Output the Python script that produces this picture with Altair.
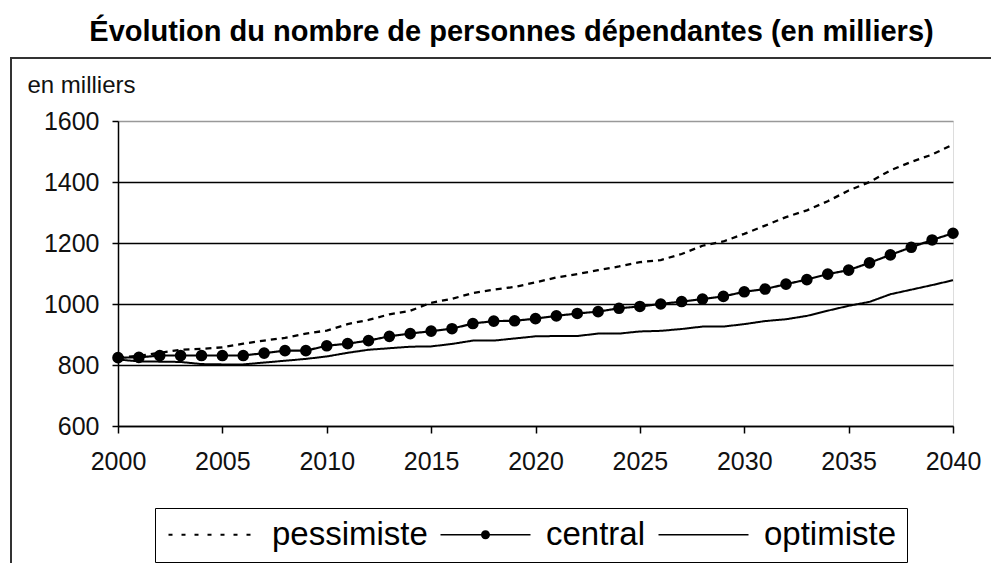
import altair as alt
import pandas as pd

years = list(range(2000, 2041))
pessimiste = [824, 830, 840, 850, 853, 858, 870, 880, 889, 903,
              913, 934, 948, 966, 978, 1004, 1017, 1036, 1047, 1056,
              1071, 1087, 1098, 1111, 1123, 1137, 1144, 1164, 1191, 1205,
              1230, 1257, 1285, 1307, 1337, 1372, 1400, 1438, 1466, 1490, 1523]
central = [824, 825, 831, 831, 831, 831, 831, 839, 847, 847,
           863, 870, 880, 894, 903, 911, 919, 936, 944, 945,
           952, 961, 969, 975, 986, 992, 1000, 1008, 1016, 1025,
           1040, 1049, 1065, 1080, 1098, 1111, 1135, 1161, 1186, 1210, 1232]
optimiste = [818, 812, 811, 810, 803, 802, 802, 808, 814, 820,
             828, 840, 850, 855, 860, 861, 869, 880, 880, 887,
             894, 895, 895, 903, 903, 910, 912, 918, 926, 926,
             934, 944, 950, 961, 978, 994, 1007, 1032, 1047, 1062, 1078]
series_names = ["pessimiste", "central", "optimiste"]
x_ticks = list(range(2000, 2041, 5))
y_ticks = list(range(600, 1601, 200))

rows = []
for name, vals in zip(series_names, [pessimiste, central, optimiste]):
    for yr, v in zip(years, vals):
        rows.append({"annee": yr, "valeur": v, "serie": name})
df = pd.DataFrame(rows)

FONT = "Liberation Sans"
# Legend symbol glyphs (filled paths). One unit = sqrt(900)/2 = 15 px;
# each glyph spans -1..5 units, i.e. a 90 px wide sample line.
U = 15.0
def _rect(x0, x1, h):
    return f"M{x0/U:.4f},{-h/2/U:.4f}H{x1/U:.4f}V{h/2/U:.4f}H{x0/U:.4f}Z"
solid_path = _rect(-15, 75, 1.6)
dot_path = solid_path + "M2.3,0A0.3,0.3,0,1,1,1.7,0A0.3,0.3,0,1,1,2.3,0Z"
dotted_path = "".join(_rect(-13 + 13 * i, -9 + 13 * i, 2.0) for i in range(7))

legend = alt.Legend(
    title=None, orient="none", legendX=37, legendY=387, direction="horizontal",
    symbolSize=900, symbolStrokeWidth=1.5, labelFont=FONT, labelFontSize=33,
    labelColor="black", labelOffset=74, columnPadding=8, padding=10,
    strokeColor="black", fillColor="white", symbolStrokeColor="black",
    symbolFillColor="black", labelLimit=0,
)

x_enc = alt.X(
    "annee:Q",
    scale=alt.Scale(domain=[2000, 2040], nice=False, zero=False),
    axis=alt.Axis(values=x_ticks, format="d", title=None, grid=False,
                  tickSize=7, labelPadding=16, labelFontSize=25, labelFont=FONT,
                  labelColor="#111", domainColor="black", domainWidth=1.5,
                  tickColor="black", tickWidth=1.5, labelFlush=False,
                  labelOverlap=False, labelBound=False),
)
y_enc = alt.Y(
    "valeur:Q",
    scale=alt.Scale(domain=[600, 1600], nice=False, zero=False),
    axis=alt.Axis(values=y_ticks, format="d", title="en milliers", grid=True,
                  gridColor=alt.condition("datum.value == 1600", alt.value("#999999"), alt.value("black")),
                  gridWidth=1.5, tickSize=6, labelPadding=13, labelFontSize=25,
                  labelFont=FONT, labelColor="#111", domainColor="black",
                  domainWidth=1.5, tickColor="black", tickWidth=1.5,
                  labelFlush=False, labelOverlap=False,
                  titleAngle=0, titleX=-91, titleY=-29, titleAlign="left",
                  titleBaseline="alphabetic", titleFontSize=24,
                  titleFontWeight="normal", titleFont=FONT, titleColor="#111"),
)

frame = alt.Chart(pd.DataFrame({"a": [0]})).mark_rect(
    filled=False, stroke="#333333", strokeWidth=2
).encode(x=alt.value(-107), y=alt.value(-63), x2=alt.value(900), y2=alt.value(470))

lines = alt.Chart(df).mark_line(color="black").encode(
    x=x_enc, y=y_enc,
    strokeDash=alt.StrokeDash("serie:N", scale=alt.Scale(domain=series_names, range=[[6, 5], [1, 0], [1, 0]]), legend=legend),
    strokeWidth=alt.StrokeWidth("serie:N", scale=alt.Scale(domain=series_names, range=[2.3, 2, 1.3]), legend=None),
)

helper = alt.Chart(df).mark_point(
    filled=False, size=0, color="black", fill="black", stroke="black", strokeWidth=1.5, opacity=1
).encode(
    x=x_enc, y=y_enc,
    shape=alt.Shape("serie:N", scale=alt.Scale(domain=series_names, range=[dotted_path, dot_path, solid_path]), legend=legend),
)

points = alt.Chart(df).transform_filter("datum.serie == 'central'").mark_point(
    filled=True, size=135, color="black", opacity=1
).encode(x=x_enc, y=y_enc)

chart = alt.layer(frame, lines, helper, points).properties(
    width=835, height=305,
    padding={"left": 110, "top": 113, "right": 38, "bottom": 137},
    autosize="none",
    title=alt.TitleParams(
        "Évolution du nombre de personnes dépendantes (en milliers)",
        fontSize=29, fontWeight="bold", font=FONT, color="black",
        anchor="middle", frame="group", offset=-13, baseline="alphabetic", dx=-24,
    ),
).configure_view(stroke="#999999", strokeWidth=1.5).configure(background="white")

chart.save("out.html", embed_options={"renderer": "svg", "actions": False})
